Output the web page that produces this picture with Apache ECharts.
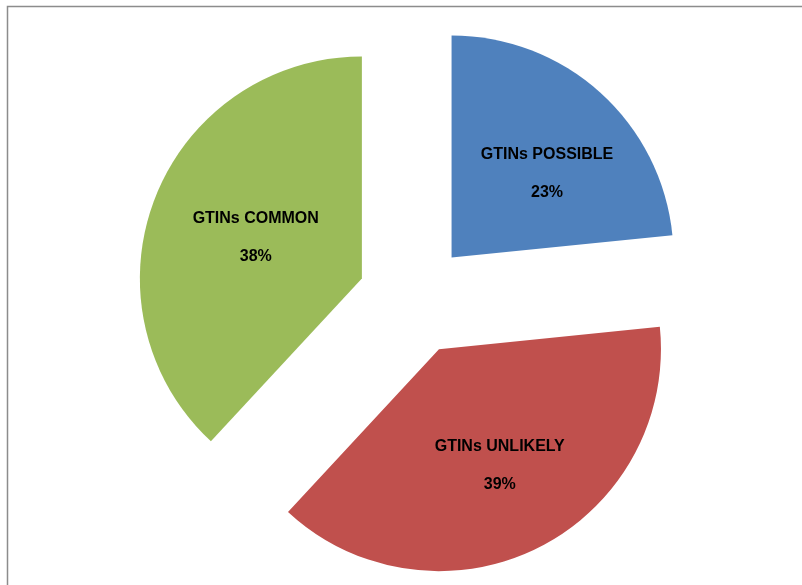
<!DOCTYPE html>
<html style="height: 100%">
<head>
    <meta charset="utf-8">
    <title>GTINs pie</title>
    <script type="text/javascript" src="https://cdn.jsdelivr.net/npm/echarts@6/dist/echarts.min.js"></script>
</head>
<body style="height: 100%; margin: 0; background: #fff">
    <div id="container" style="width: 802px; height: 585px"></div>
    <script type="text/javascript">
        var names = ['GTINs POSSIBLE', 'GTINs UNLIKELY', 'GTINs COMMON'];
        var values = [23.4, 38.5, 38.1];
        var colors = ['#4F81BD', '#C0504D', '#9BBB59'];
        // small nudges so the labels sit where Excel put them
        var labelShift = [[19, 1], [10, 14], [0, 1]];

        var data = [];
        for (var i = 0; i < names.length; i++) {
            data.push({
                name: names[i],
                value: values[i],
                selected: true,
                itemStyle: { color: colors[i] }
            });
        }

        var myChart = echarts.init(document.getElementById('container'));
        var option = {
            animation: false,
            graphic: [{
                type: 'rect',
                shape: { x: 7.5, y: 6.5, width: 900, height: 700 },
                style: { fill: 'none', stroke: '#8c8c8c', lineWidth: 1.5 },
                silent: true
            }],
            series: [{
                type: 'pie',
                center: [414, 299],
                radius: [0, 222],
                startAngle: 90,
                clockwise: true,
                selectedMode: 'multiple',
                selectedOffset: 56,
                emphasis: { disabled: true },
                label: {
                    position: 'inside',
                    formatter: function (p) {
                        return p.name + '\n\n' + Math.round(p.percent) + '%';
                    },
                    color: '#000',
                    fontFamily: 'Arial, Liberation Sans',
                    fontWeight: 'bold',
                    fontSize: 16,
                    lineHeight: 19
                },
                labelLayout: function (params) {
                    var s = labelShift[params.dataIndex];
                    return { dx: s[0], dy: s[1] };
                },
                labelLine: { show: false },
                data: data
            }]
        };
        myChart.setOption(option);
    </script>
</body>
</html>
